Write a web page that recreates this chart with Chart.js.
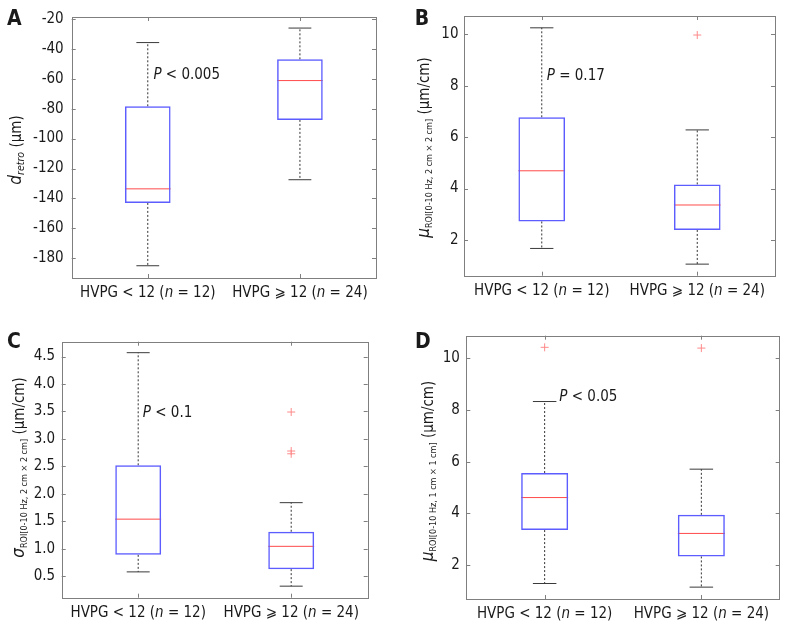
<!DOCTYPE html>
<html>
<head>
<meta charset="utf-8">
<script src="https://cdn.jsdelivr.net/npm/chart.js@4.4.1/dist/chart.umd.min.js"></script>
<style>
  html, body { margin: 0; padding: 0; background: #fff; }
  #wrap { position: relative; width: 787px; height: 630px; }
  canvas { position: absolute; }
</style>
</head>
<body>
<div id="wrap">
  <canvas id="chartA" width="393" height="315" style="left:0;top:0"></canvas>
  <canvas id="chartB" width="394" height="315" style="left:393px;top:0"></canvas>
  <canvas id="chartC" width="393" height="315" style="left:0;top:315px"></canvas>
  <canvas id="chartD" width="394" height="315" style="left:393px;top:315px"></canvas>
</div>
<script>
const FONT = '"DejaVu Sans Condensed", "DejaVu Sans", sans-serif';

const groups = ['HVPG < 12', 'HVPG \u2A7E 12'];
const groupSizes = [12, 24];

// A: d_retro (um)
const aLow = [-185, -127.5];
const aQ1 = [-143, -87.5];
const aMedian = [-133.6, -61.2];
const aQ3 = [-78.4, -47];
const aHigh = [-35.8, -26.1];
const aOutliers = [[], []];
const aTicks = [-180, -160, -140, -120, -100, -80, -60, -40, -20];

// B: mu ROI 2 cm x 2 cm (um/cm)
const bLow = [1.67, 1.06];
const bQ1 = [2.72, 2.39];
const bMedian = [4.69, 3.36];
const bQ3 = [6.77, 4.16];
const bHigh = [10.25, 6.28];
const bOutliers = [[], [9.97]];
const bTicks = [2, 4, 6, 8, 10];

// C: sigma ROI 2 cm x 2 cm (um/cm)
const cLow = [0.58, 0.32];
const cQ1 = [0.89, 0.63];
const cMedian = [1.54, 1.045];
const cQ3 = [2.52, 1.31];
const cHigh = [4.57, 1.84];
const cOutliers = [[], [3.49, 2.78, 2.73]];
const cTicks = [0.5, 1.0, 1.5, 2.0, 2.5, 3.0, 3.5, 4.0, 4.5];
const cTickLabels = ['0.5', '1.0', '1.5', '2.0', '2.5', '3.0', '3.5', '4.0', '4.5'];

// D: mu ROI 1 cm x 1 cm (um/cm)
const dLow = [1.28, 1.14];
const dQ1 = [3.35, 2.33];
const dMedian = [4.61, 3.22];
const dQ3 = [5.56, 3.94];
const dHigh = [8.33, 5.71];
const dOutliers = [[10.43], [10.40]];
const dTicks = [2, 4, 6, 8, 10];

const BOX_HALF = 0.15;
const CAP_HALF = 0.075;

function font(size, italic, bold) {
  return (italic ? 'italic ' : '') + (bold ? 'bold ' : '') + size + 'px ' + FONT;
}

function drawRich(ctx, segs, x, y, align) {
  let total = 0;
  segs.forEach(s => { ctx.font = font(s.size, s.italic, s.bold); s.w = ctx.measureText(s.text).width; total += s.w; });
  let cx = align === 'center' ? x - total / 2 : x;
  segs.forEach(s => {
    ctx.font = font(s.size, s.italic, s.bold);
    ctx.fillText(s.text, cx, y + (s.dy || 0));
    cx += s.w;
  });
}

function boxDatasets(low, q1, med, q3, high, outliers) {
  const pos = low.map((_, i) => i + 1);
  return [
    {
      type: 'bar',
      data: pos.map((x, i) => ({ x, y: [q1[i], q3[i]] })),
      backgroundColor: 'rgba(0,0,0,0)',
      borderColor: '#5c5cff',
      borderWidth: 1.5,
      borderSkipped: false,
      barPercentage: BOX_HALF * 2,
      categoryPercentage: 1
    },
    {
      type: 'line',
      data: pos.flatMap((x, i) => [
        { x, y: q3[i] }, { x, y: high[i] }, { x, y: null },
        { x, y: q1[i] }, { x, y: low[i] }, { x, y: null }
      ]),
      borderColor: '#333',
      borderWidth: 1,
      borderDash: [2, 2],
      pointRadius: 0,
      tension: 0
    },
    {
      type: 'line',
      data: pos.flatMap((x, i) => [
        { x: x - CAP_HALF, y: high[i] }, { x: x + CAP_HALF, y: high[i] }, { x, y: null },
        { x: x - CAP_HALF, y: low[i] }, { x: x + CAP_HALF, y: low[i] }, { x, y: null }
      ]),
      borderColor: '#3a3a3a',
      borderWidth: 1,
      pointRadius: 0,
      tension: 0
    },
    {
      type: 'line',
      data: pos.flatMap((x, i) => [
        { x: x - BOX_HALF, y: med[i] }, { x: x + BOX_HALF, y: med[i] }, { x, y: null }
      ]),
      borderColor: '#ff4a4a',
      borderWidth: 1,
      pointRadius: 0,
      tension: 0
    },
    {
      type: 'scatter',
      data: outliers.flatMap((vals, i) => vals.map(v => ({ x: i + 1, y: v }))),
      pointStyle: 'cross',
      pointRadius: 4,
      borderColor: '#ff8a8a',
      backgroundColor: '#ff8a8a',
      borderWidth: 1
    }
  ];
}

// frame, inward ticks, panel letter, rich axis titles and labels
function decor(cfg) {
  return {
    id: 'decor' + cfg.letter,
    afterDraw(chart) {
      const ctx = chart.ctx;
      const a = chart.chartArea;
      const xs = chart.scales.x, ys = chart.scales.y;
      ctx.save();
      ctx.strokeStyle = '#7f7f7f';
      ctx.lineWidth = 1;
      ctx.strokeRect(Math.round(a.left) + 0.5, Math.round(a.top) + 0.5,
        Math.round(a.right - a.left), Math.round(a.bottom - a.top));
      ctx.beginPath();
      ys.ticks.forEach(t => {
        const y = Math.round(ys.getPixelForValue(t.value)) + 0.5;
        ctx.moveTo(a.left, y); ctx.lineTo(a.left + 4, y);
        ctx.moveTo(a.right, y); ctx.lineTo(a.right - 4, y);
      });
      xs.ticks.forEach(t => {
        const x = Math.round(xs.getPixelForValue(t.value)) + 0.5;
        ctx.moveTo(x, a.bottom); ctx.lineTo(x, a.bottom - 4);
        ctx.moveTo(x, a.top); ctx.lineTo(x, a.top + 4);
      });
      ctx.stroke();

      ctx.fillStyle = '#1a1a1a';
      ctx.textBaseline = 'alphabetic';
      ctx.textAlign = 'left';
      // panel letter
      ctx.font = font(21, false, true);
      ctx.fillText(cfg.letter, cfg.letterPos[0], cfg.letterPos[1]);

      // category labels
      groups.forEach((g, i) => {
        const x = xs.getPixelForValue(i + 1);
        drawRich(ctx, [
          { text: g + ' (', size: 15 },
          { text: 'n', size: 15, italic: true },
          { text: ' = ' + groupSizes[i] + ')', size: 15 }
        ], x, a.bottom + 19, 'center');
      });

      // y title
      ctx.save();
      ctx.translate(cfg.titlePos[0], cfg.titlePos[1]);
      ctx.rotate(-Math.PI / 2);
      drawRich(ctx, cfg.title, 0, 0, 'center');
      ctx.restore();

      // P value note
      const px = xs.getPixelForValue(1) + cfg.note.dx;
      const py = ys.getPixelForValue(cfg.note.y);
      drawRich(ctx, [
        { text: 'P', size: 15, italic: true },
        { text: cfg.note.text, size: 15 }
      ], px, py, 'left');
      ctx.restore();
    }
  };
}

function makeChart(id, data, yMin, yMax, ticks, tickLabels, area, tickPad, cfg) {
  const canvas = document.getElementById(id);
  new Chart(canvas, {
    type: 'bar',
    data: { datasets: boxDatasets(...data) },
    options: {
      responsive: false,
      animation: false,
      layout: { padding: { top: area.top, right: canvas.width - area.right, left: 0, bottom: 0 } },
      plugins: { legend: { display: false }, tooltip: { enabled: false } },
      scales: {
        x: {
          type: 'linear',
          min: 0.5,
          max: 2.5,
          offset: false,
          grid: { display: false, drawTicks: false },
          border: { display: false },
          ticks: { display: false },
          afterBuildTicks: s => { s.ticks = groups.map((_, i) => ({ value: i + 1 })); },
          afterFit: s => { s.height = canvas.height - area.bottom; }
        },
        y: {
          type: 'linear',
          min: yMin,
          max: yMax,
          grid: { display: false, drawTicks: false },
          border: { display: false },
          ticks: {
            color: '#1a1a1a',
            padding: tickPad,
            font: { family: FONT, size: 15 },
            callback: (v, i) => tickLabels[i]
          },
          afterBuildTicks: s => { s.ticks = ticks.map(v => ({ value: v })); },
          afterFit: s => { s.width = area.left; }
        }
      }
    },
    plugins: [decor(cfg)]
  });
}

const subSize = 9;

makeChart('chartA', [aLow, aQ1, aMedian, aQ3, aHigh, aOutliers], -193.2, -18.7,
  aTicks, aTicks.map(String), { left: 71.7, right: 376, top: 13, bottom: 278 }, 8, {
    letter: 'A', letterPos: [7, 25], titlePos: [21, 150],
    title: [
      { text: 'd', size: 17, italic: true },
      { text: 'retro', size: 10.5, italic: true, dy: 3 },
      { text: ' (\u03BCm)', size: 15 }
    ],
    note: { dx: 5.6, y: -60.3, text: ' < 0.005' }
  });

makeChart('chartB', [bLow, bQ1, bMedian, bQ3, bHigh, bOutliers], 0.61, 10.71,
  bTicks, bTicks.map(String), { left: 71, right: 382, top: 16, bottom: 275.7 }, 5.5, {
    letter: 'B', letterPos: [21.7, 25], titlePos: [36, 147.5],
    title: [
      { text: '\u03BC', size: 17, italic: true },
      { text: 'ROI[0-10 Hz, 2 cm \u00D7 2 cm]', size: subSize, dy: 3 },
      { text: ' (\u03BCm/cm)', size: 15 }
    ],
    note: { dx: 5, y: 8.22, text: ' = 0.17' }
  });

makeChart('chartC', [cLow, cQ1, cMedian, cQ3, cHigh, cOutliers], 0.11, 4.77,
  cTicks, cTickLabels, { left: 61.7, right: 367.7, top: 26.7, bottom: 282.7 }, 6.5, {
    letter: 'C', letterPos: [7, 33], titlePos: [23.5, 152.5],
    title: [
      { text: '\u03C3', size: 17, italic: true },
      { text: 'ROI[0-10 Hz, 2 cm \u00D7 2 cm]', size: subSize, dy: 3 },
      { text: ' (\u03BCm/cm)', size: 15 }
    ],
    note: { dx: 4.6, y: 3.40, text: ' < 0.1' }
  });

makeChart('chartD', [dLow, dQ1, dMedian, dQ3, dHigh, dOutliers], 0.68, 10.88,
  dTicks, dTicks.map(String), { left: 73.3, right: 386.7, top: 20.7, bottom: 284 }, 6.5, {
    letter: 'D', letterPos: [22, 33], titlePos: [39.5, 156],
    title: [
      { text: '\u03BC', size: 17, italic: true },
      { text: 'ROI[0-10 Hz, 1 cm \u00D7 1 cm]', size: subSize, dy: 3 },
      { text: ' (\u03BCm/cm)', size: 15 }
    ],
    note: { dx: 14.7, y: 8.35, text: ' < 0.05' }
  });
</script>
</body>
</html>
